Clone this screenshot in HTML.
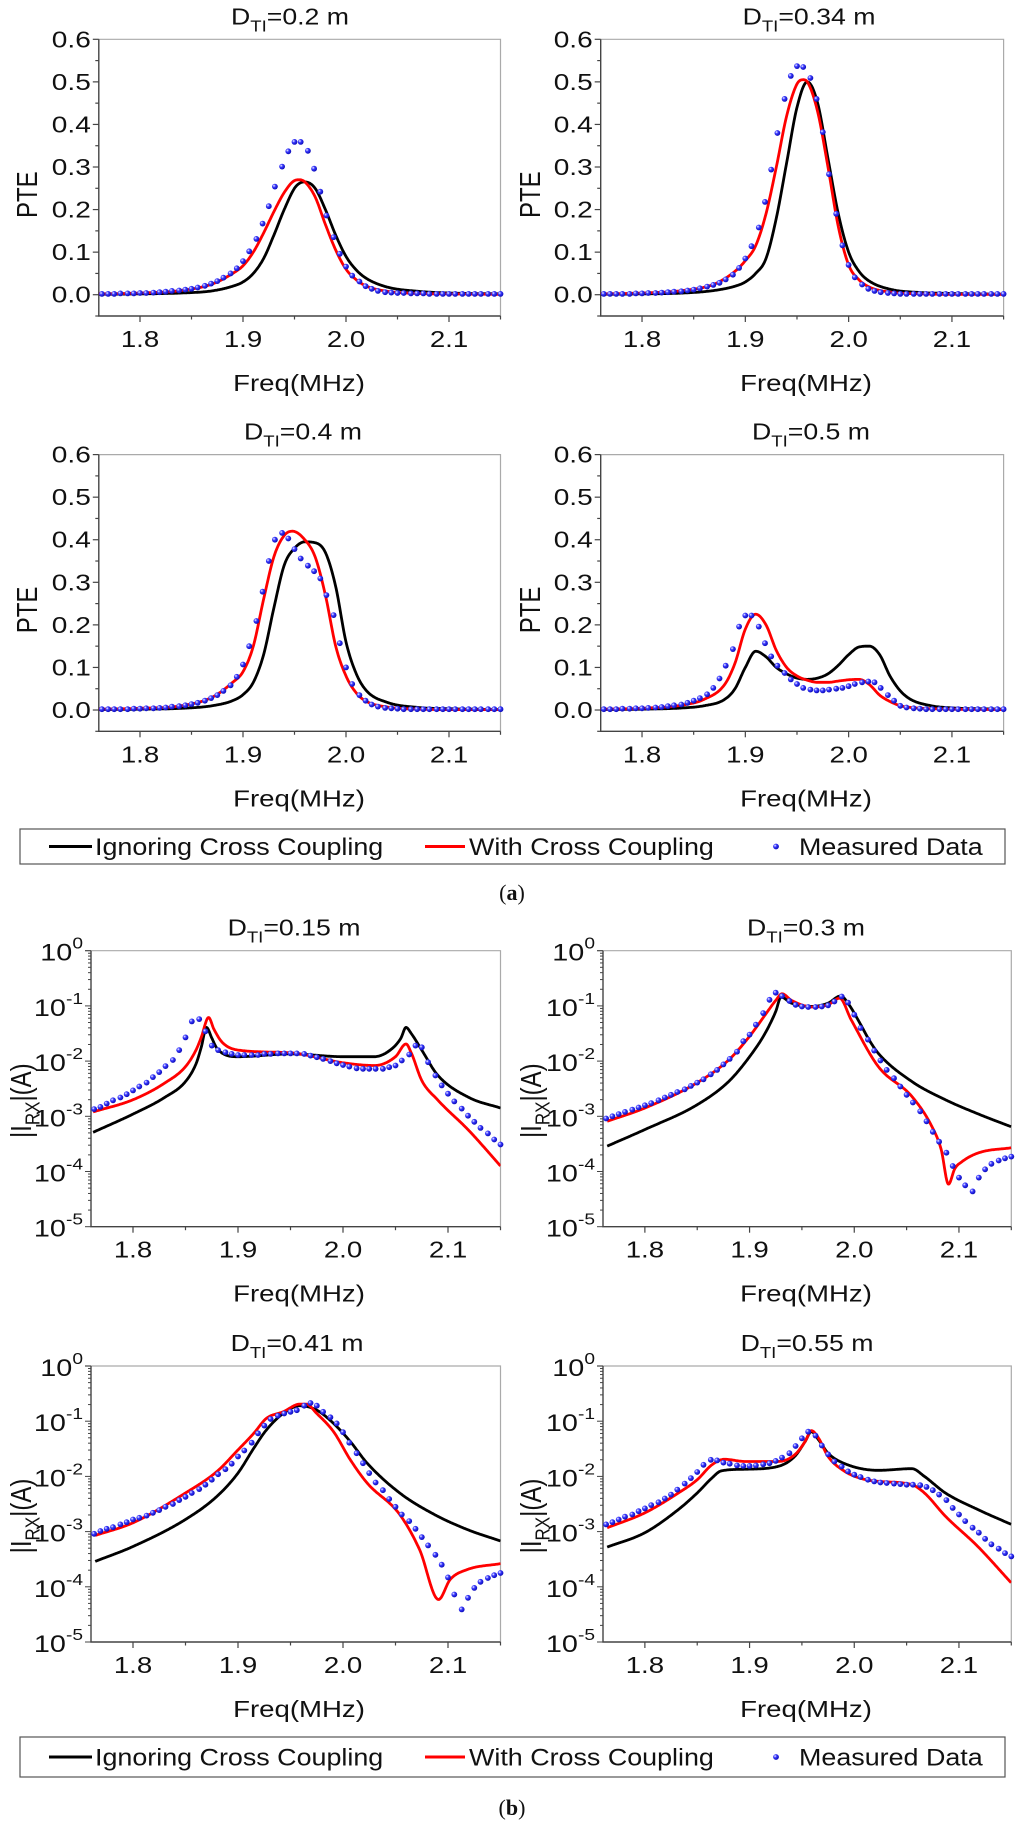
<!DOCTYPE html>
<html><head><meta charset="utf-8"><title>PTE and |I_RX| vs frequency</title>
<style>html,body{margin:0;padding:0;background:#fff}svg{display:block}text{font-family:"Liberation Sans",Arial,sans-serif;fill:#111}</style>
</head><body>
<svg id="fig" xmlns="http://www.w3.org/2000/svg" width="1024" height="1823" viewBox="0 0 1024 1823">
<defs>
<radialGradient id="ball" cx="0.35" cy="0.35" r="0.75">
<stop offset="0" stop-color="#ffffff"/><stop offset="0.35" stop-color="#3a3aff"/><stop offset="1" stop-color="#0000a8"/>
</radialGradient>
</defs>
</svg>
<script>
// ---------- DATA ----------
const dotFreq=[1.763,1.769,1.775,1.781,1.788,1.794,1.800,1.806,1.813,1.819,1.825,1.831,1.838,1.844,1.850,1.856,1.863,1.869,1.875,1.881,1.888,1.894,1.900,1.906,1.913,1.919,1.925,1.931,1.938,1.944,1.950,1.956,1.963,1.969,1.975,1.981,1.988,1.994,2.000,2.006,2.013,2.019,2.025,2.031,2.038,2.044,2.050,2.056,2.063,2.069,2.075,2.081,2.088,2.094,2.100,2.106,2.113,2.119,2.125,2.131,2.138,2.144,2.150];
const xTicks=[1.8,1.9,2.0,2.1];
const xTickLabels=["1.8","1.9","2.0","2.1"];
const pteTicks=[0,0.1,0.2,0.3,0.4,0.5,0.6];
const pteTickLabels=["0.0","0.1","0.2","0.3","0.4","0.5","0.6"];
const logTicks=[0,-1,-2,-3,-4,-5];
const logTickLabels=["0","-1","-2","-3","-4","-5"];

// (a) D=0.2 m
const a1CurveF=[1.76,1.80,1.84,1.87,1.89,1.90,1.91,1.92,1.93,1.94,1.95,1.955,1.96,1.97,1.98,1.99,2.00,2.01,2.02,2.04,2.07,2.10,2.15];
const a1Black=[.001,.002,.004,.009,.02,.03,.05,.085,.14,.2,.25,.262,.265,.25,.2,.14,.09,.058,.038,.018,.008,.004,.002];
const a1Red=[.002,.004,.010,.025,.05,.068,.10,.145,.195,.24,.268,.27,.265,.23,.165,.105,.06,.035,.02,.008,.003,.002,.001];
const a1Meas=[.002,.002,.002,.003,.003,.003,.004,.004,.005,.006,.007,.009,.010,.012,.014,.017,.021,.026,.032,.040,.050,.062,.079,.102,.131,.167,.208,.254,.301,.337,.359,.359,.338,.296,.242,.186,.135,.096,.066,.045,.031,.020,.014,.009,.006,.005,.004,.004,.003,.003,.003,.002,.002,.002,.002,.002,.002,.002,.002,.002,.002,.002,.002];
// (a) D=0.34 m
const a2RedF=[1.76,1.80,1.84,1.87,1.89,1.90,1.91,1.92,1.93,1.94,1.95,1.956,1.96,1.97,1.98,1.99,2.00,2.01,2.02,2.04,2.07,2.10,2.15];
const a2Red=[.002,.004,.010,.025,.055,.08,.115,.19,.30,.42,.495,.505,.50,.43,.30,.16,.07,.035,.018,.006,.002,.001,.001];
const a2BlackF=[1.76,1.80,1.84,1.87,1.89,1.90,1.91,1.92,1.93,1.94,1.95,1.96,1.97,1.98,1.99,2.00,2.01,2.02,2.04,2.07,2.10,2.15];
const a2Black=[.001,.002,.004,.01,.02,.03,.05,.085,.18,.31,.44,.50,.45,.32,.19,.10,.055,.032,.013,.005,.003,.001];
const a2Meas=[.002,.002,.002,.002,.002,.003,.003,.004,.004,.005,.006,.007,.008,.010,.012,.015,.019,.023,.028,.036,.047,.063,.085,.114,.158,.218,.294,.38,.46,.514,.537,.535,.509,.46,.382,.283,.19,.116,.07,.041,.024,.014,.009,.006,.004,.003,.002,.002,.002,.002,.002,.002,.002,.002,.002,.002,.002,.002,.002,.002,.002,.002,.002];
// (a) D=0.4 m
const a3RedF=[1.76,1.80,1.84,1.87,1.89,1.90,1.91,1.92,1.93,1.94,1.948,1.96,1.97,1.98,1.99,2.00,2.01,2.02,2.04,2.07,2.10,2.15];
const a3Red=[.002,.004,.01,.03,.065,.09,.15,.26,.36,.41,.42,.40,.36,.27,.15,.08,.04,.02,.007,.002,.001,.001];
const a3BlackF=[1.76,1.80,1.84,1.87,1.89,1.90,1.91,1.92,1.93,1.94,1.95,1.96,1.97,1.98,1.99,2.00,2.01,2.02,2.04,2.07,2.10,2.15];
const a3Black=[.001,.002,.004,.01,.022,.036,.065,.13,.24,.34,.38,.395,.393,.37,.29,.16,.085,.045,.018,.006,.003,.001];
const a3Meas=[.002,.002,.002,.002,.002,.003,.003,.004,.004,.005,.006,.008,.009,.011,.014,.017,.022,.028,.035,.045,.058,.078,.107,.15,.209,.278,.35,.40,.416,.403,.378,.356,.339,.326,.309,.27,.223,.157,.10,.061,.035,.022,.013,.008,.005,.004,.003,.002,.002,.002,.002,.002,.002,.002,.002,.002,.002,.002,.002,.002,.002,.002,.002];
// (a) D=0.5 m
const a4CurveF=[1.76,1.80,1.84,1.86,1.88,1.89,1.90,1.91,1.92,1.93,1.94,1.95,1.96,1.97,1.98,1.99,2.00,2.01,2.02,2.03,2.04,2.05,2.06,2.08,2.10,2.15];
const a4Black=[.001,.002,.005,.01,.025,.05,.10,.138,.125,.10,.085,.075,.072,.075,.085,.105,.13,.148,.15,.13,.08,.045,.025,.01,.005,.002];
const a4Red=[.002,.004,.012,.025,.06,.11,.19,.225,.2,.14,.1,.08,.07,.065,.065,.068,.071,.072,.06,.035,.02,.01,.006,.003,.002,.001];
const a4Meas=[.002,.002,.002,.003,.003,.004,.004,.005,.006,.007,.009,.011,.013,.017,.022,.028,.037,.052,.074,.104,.143,.196,.222,.222,.196,.157,.126,.104,.087,.072,.061,.052,.048,.046,.046,.048,.05,.052,.056,.061,.065,.067,.065,.052,.035,.022,.01,.006,.004,.003,.002,.002,.002,.002,.002,.002,.002,.002,.002,.002,.002,.002,.002];

// (b) values are log10(|I_RX| / A)
const b1BlackF=[1.762,1.80,1.83,1.85,1.86,1.865,1.87,1.875,1.88,1.90,1.95,2.00,2.03,2.045,2.055,2.06,2.065,2.075,2.09,2.12,2.15];
const b1BlackLog=[-3.29,-2.96,-2.66,-2.37,-2.05,-1.75,-1.39,-1.58,-1.77,-1.92,-1.87,-1.92,-1.92,-1.80,-1.59,-1.39,-1.50,-1.80,-2.25,-2.66,-2.85];
const b1RedF=[1.762,1.80,1.83,1.85,1.86,1.865,1.872,1.877,1.885,1.90,1.95,2.00,2.03,2.05,2.06,2.065,2.075,2.09,2.12,2.15];
const b1RedLog=[-2.92,-2.70,-2.40,-2.10,-1.80,-1.57,-1.21,-1.42,-1.66,-1.80,-1.85,-2.03,-2.08,-1.92,-1.69,-1.85,-2.35,-2.70,-3.26,-3.90];
const b1MeasLog=[-2.87,-2.83,-2.77,-2.71,-2.66,-2.60,-2.53,-2.46,-2.39,-2.29,-2.20,-2.09,-1.98,-1.80,-1.57,-1.28,-1.24,-1.46,-1.72,-1.80,-1.84,-1.87,-1.89,-1.89,-1.89,-1.89,-1.87,-1.87,-1.86,-1.86,-1.86,-1.86,-1.87,-1.90,-1.93,-1.96,-2.00,-2.04,-2.07,-2.10,-2.13,-2.14,-2.14,-2.14,-2.14,-2.11,-2.08,-1.99,-1.88,-1.72,-1.75,-2.02,-2.26,-2.44,-2.59,-2.73,-2.86,-2.99,-3.10,-3.21,-3.31,-3.42,-3.51];
const b2BlackF=[1.764,1.80,1.85,1.88,1.90,1.915,1.925,1.930,1.94,1.96,1.975,1.987,1.995,2.005,2.014,2.023,2.055,2.087,2.12,2.15];
const b2BlackLog=[-3.54,-3.24,-2.79,-2.37,-1.92,-1.49,-1.10,-0.84,-0.95,-1.01,-0.95,-0.82,-0.98,-1.30,-1.61,-1.86,-2.37,-2.70,-2.97,-3.19];
const b2RedF=[1.764,1.80,1.85,1.88,1.90,1.915,1.925,1.931,1.94,1.96,1.975,1.986,1.997,2.023,2.055,2.074,2.083,2.090,2.096,2.103,2.119,2.15];
const b2RedLog=[-3.09,-2.85,-2.39,-1.98,-1.55,-1.16,-0.90,-0.78,-0.90,-1.02,-0.98,-0.86,-1.25,-2.10,-2.64,-3.18,-3.60,-4.23,-3.95,-3.82,-3.66,-3.57];
const b2MeasLog=[-3.04,-3.00,-2.96,-2.92,-2.88,-2.84,-2.80,-2.76,-2.71,-2.66,-2.61,-2.56,-2.51,-2.45,-2.39,-2.33,-2.24,-2.16,-2.06,-1.96,-1.83,-1.64,-1.52,-1.34,-1.13,-0.89,-0.76,-0.82,-0.91,-0.98,-1.01,-1.02,-1.02,-1.01,-0.99,-0.92,-0.83,-0.94,-1.16,-1.40,-1.61,-1.81,-1.99,-2.16,-2.31,-2.46,-2.61,-2.75,-2.91,-3.09,-3.28,-3.46,-3.66,-3.90,-4.11,-4.25,-4.36,-4.11,-3.96,-3.86,-3.80,-3.76,-3.73];
const b3BlackF=[1.764,1.80,1.85,1.88,1.90,1.915,1.927,1.943,1.959,1.975,1.991,2.007,2.023,2.054,2.087,2.118,2.15];
const b3BlackLog=[-3.54,-3.27,-2.78,-2.36,-1.94,-1.49,-1.16,-0.86,-0.72,-0.80,-1.04,-1.37,-1.76,-2.30,-2.69,-2.96,-3.17];
const b3RedF=[1.764,1.80,1.85,1.88,1.90,1.915,1.927,1.943,1.959,1.965,1.975,1.991,2.007,2.023,2.054,2.073,2.091,2.102,2.118,2.15];
const b3RedLog=[-3.07,-2.84,-2.30,-1.91,-1.52,-1.22,-0.95,-0.83,-0.69,-0.69,-0.86,-1.19,-1.70,-2.12,-2.69,-3.33,-4.23,-3.87,-3.69,-3.58];
const b3MeasLog=[-3.04,-2.99,-2.95,-2.92,-2.87,-2.83,-2.78,-2.75,-2.71,-2.66,-2.61,-2.55,-2.50,-2.43,-2.37,-2.30,-2.23,-2.15,-2.06,-1.96,-1.87,-1.77,-1.64,-1.53,-1.39,-1.22,-1.08,-0.96,-0.90,-0.86,-0.83,-0.80,-0.72,-0.67,-0.72,-0.83,-0.93,-1.04,-1.20,-1.39,-1.58,-1.76,-1.94,-2.11,-2.25,-2.41,-2.55,-2.69,-2.81,-2.95,-3.10,-3.25,-3.42,-3.60,-3.83,-4.14,-4.41,-4.20,-4.02,-3.91,-3.84,-3.79,-3.75];
const b4BlackF=[1.764,1.80,1.832,1.85,1.864,1.873,1.896,1.927,1.943,1.953,1.959,1.966,1.975,1.991,2.023,2.055,2.067,2.087,2.118,2.15];
const b4BlackLog=[-3.28,-3.02,-2.60,-2.30,-2.03,-1.90,-1.87,-1.82,-1.64,-1.37,-1.19,-1.34,-1.58,-1.77,-1.89,-1.86,-2.00,-2.30,-2.60,-2.87];
const b4RedF=[1.764,1.80,1.832,1.85,1.864,1.876,1.896,1.927,1.943,1.953,1.959,1.966,1.975,1.991,2.007,2.023,2.055,2.067,2.087,2.118,2.15];
const b4RedLog=[-2.93,-2.66,-2.30,-2.06,-1.79,-1.69,-1.73,-1.73,-1.61,-1.37,-1.17,-1.31,-1.64,-1.91,-2.04,-2.09,-2.15,-2.30,-2.72,-3.27,-3.93];
const b4MeasLog=[-2.87,-2.83,-2.78,-2.73,-2.69,-2.63,-2.58,-2.52,-2.47,-2.40,-2.33,-2.24,-2.13,-2.03,-1.92,-1.79,-1.70,-1.71,-1.75,-1.77,-1.80,-1.81,-1.81,-1.80,-1.78,-1.76,-1.72,-1.66,-1.58,-1.45,-1.31,-1.19,-1.26,-1.44,-1.60,-1.73,-1.82,-1.91,-1.97,-2.01,-2.06,-2.09,-2.11,-2.12,-2.13,-2.14,-2.15,-2.15,-2.16,-2.19,-2.25,-2.33,-2.43,-2.57,-2.69,-2.81,-2.93,-3.02,-3.13,-3.23,-3.31,-3.39,-3.45];

// ---------- LAYOUT ----------
const NS="http://www.w3.org/2000/svg";
const svg=document.getElementById('fig');
const SX=1.18;
function el(tag,attrs,parent){const e=document.createElementNS(NS,tag);for(const k in attrs)e.setAttribute(k,attrs[k]);(parent||svg).appendChild(e);return e;}
function txt(parent,x,y,html,fs,anchor,sx,rot){
  const t=el('text',{transform:`translate(${x},${y}) scale(${sx||SX},1)`+(rot?` rotate(${rot})`:''),'font-size':fs,'text-anchor':anchor||'middle'},parent);
  t.innerHTML=html;return t;
}
function monotone(xs,ys){
  const n=xs.length,d=[],m=new Array(n);
  for(let i=0;i<n-1;i++)d.push((ys[i+1]-ys[i])/(xs[i+1]-xs[i]));
  m[0]=d[0];m[n-1]=d[n-2];
  for(let i=1;i<n-1;i++){m[i]=(d[i-1]*d[i]<=0)?0:(d[i-1]+d[i])/2;}
  for(let i=0;i<n-1;i++){if(d[i]===0){m[i]=0;m[i+1]=0;continue;}const a=m[i]/d[i],b=m[i+1]/d[i],s=a*a+b*b;if(s>9){const t=3/Math.sqrt(s);m[i]=t*a*d[i];m[i+1]=t*b*d[i];}}
  return function(x){let i=0;while(i<n-2&&x>xs[i+1])i++;const h=xs[i+1]-xs[i],t=Math.min(1,Math.max(0,(x-xs[i])/h));const t2=t*t,t3=t2*t;
    return (2*t3-3*t2+1)*ys[i]+(t3-2*t2+t)*h*m[i]+(-2*t3+3*t2)*ys[i+1]+(t3-t2)*h*m[i+1];};
}
const panels=[
 {id:'a1',kind:'pte',L:98.8,R:500.5,T:39.3,B:316,title:'0.2',tx:290,col:0,curves:[[a1CurveF,a1Black,'#000'],[a1CurveF,a1Red,'#f00']],meas:a1Meas},
 {id:'a2',kind:'pte',L:600.7,R:1003.6,T:39.3,B:316,title:'0.34',tx:809,col:1,curves:[[a2BlackF,a2Black,'#000'],[a2RedF,a2Red,'#f00']],meas:a2Meas},
 {id:'a3',kind:'pte',L:98.8,R:500.5,T:454.6,B:731.3,title:'0.4',tx:303,col:0,curves:[[a3BlackF,a3Black,'#000'],[a3RedF,a3Red,'#f00']],meas:a3Meas},
 {id:'a4',kind:'pte',L:600.7,R:1003.6,T:454.6,B:731.3,title:'0.5',tx:811,col:1,curves:[[a4CurveF,a4Black,'#000'],[a4CurveF,a4Red,'#f00']],meas:a4Meas},
 {id:'b1',kind:'log',L:91,R:500.5,T:950.7,B:1226.7,title:'0.15',tx:294,col:0,curves:[[b1BlackF,b1BlackLog,'#000'],[b1RedF,b1RedLog,'#f00']],meas:b1MeasLog},
 {id:'b2',kind:'log',L:603,R:1011.3,T:950.7,B:1226.7,title:'0.3',tx:806,col:1,curves:[[b2BlackF,b2BlackLog,'#000'],[b2RedF,b2RedLog,'#f00']],meas:b2MeasLog},
 {id:'b3',kind:'log',L:91,R:500.5,T:1366,B:1642,title:'0.41',tx:297,col:0,curves:[[b3BlackF,b3BlackLog,'#000'],[b3RedF,b3RedLog,'#f00']],meas:b3MeasLog},
 {id:'b4',kind:'log',L:603,R:1011.3,T:1366,B:1642,title:'0.55',tx:807,col:1,curves:[[b4BlackF,b4BlackLog,'#000'],[b4RedF,b4RedLog,'#f00']],meas:b4MeasLog}
];
const FMIN=1.76,FMAX=2.15;
panels.forEach(p=>{
  const g=el('g',{});
  
  
  const xs=f=>p.L+(f-FMIN)/(FMAX-FMIN)*(p.R-p.L);
  const ys=p.kind==='pte'?(v=>p.B-(v+0.05)/0.65*(p.B-p.T)):(v=>p.B-(v+5)/5*(p.B-p.T));
  const cp=el('clipPath',{id:'clip-'+p.id},g);el('rect',{x:p.L,y:p.T,width:p.R-p.L,height:p.B-p.T},cp);
  const fr=el('path',{d:`M${p.L},${p.T}H${p.R}V${p.B}`,fill:'none',stroke:'#aaa','stroke-width':1.2},g);
  
  const ax=el('path',{d:`M${p.L},${p.T}V${p.B}H${p.R}`,fill:'none',stroke:'#444','stroke-width':1.4},g);
  
  const xt=el('g',{},g);
  for(let f=1.75;f<=2.151;f+=0.05){const X=xs(+f.toFixed(2));if(X<p.L-0.5)continue;const major=Math.abs(f*10-Math.round(f*10))<1e-6;el('line',{x1:X,x2:X,y1:p.B,y2:p.B+(major?6:3.5),stroke:'#444','stroke-width':1.2},xt);}
  xTicks.forEach((f,i)=>{const t=txt(xt,xs(f),p.B+31,xTickLabels[i],23,'middle',1.2);});
  const xl=txt(g,p.col?806:299,p.B+75,'Freq(MHz)',23,'middle',1.2);
  
  const yt=el('g',{},g);
  if(p.kind==='pte'){
    for(let k=-1;k<=12;k++){const v=k*0.05,Y=ys(v);el('line',{x1:p.L-(k%2===0?6:3.5),x2:p.L,y1:Y,y2:Y,stroke:'#444','stroke-width':1.2},yt);}
    pteTicks.forEach((v,i)=>{const t=txt(yt,p.L-8,ys(v)+8,pteTickLabels[i],23,'end',1.22);});
    const yl=txt(g,p.col?540:37,(p.T+p.B)/2+17,'PTE',24,'middle',1.2,-90);
    
  }else{
    for(let d=-5;d<0;d++){for(let k=1;k<=9;k++){const Y=ys(d+Math.log10(k));el('line',{x1:p.L-(k===1?6:3),x2:p.L,y1:Y,y2:Y,stroke:'#444','stroke-width':1},yt);}}
    el('line',{x1:p.L-6,x2:p.L,y1:ys(0),y2:ys(0),stroke:'#444','stroke-width':1.2},yt);
    logTicks.forEach((v,i)=>{const t=txt(yt,p.L-8,ys(v)+10,`10<tspan dy="-12" font-size="16">${logTickLabels[i]}</tspan>`,24,'end',1.2);});
    const yl=txt(g,p.col?541:31,(p.T+p.B)/2+12,'|I<tspan dy="7" font-size="17">RX</tspan><tspan dy="-7">|(A)</tspan>',24,'middle',1.2,-90);
    
  }
  const tt=txt(g,p.tx,p.T-15,`D<tspan dy="7" font-size="16">TI</tspan><tspan dy="-7">=${p.title} m</tspan>`,23,'middle',1.16);
  
  const cg=el('g',{'clip-path':`url(#clip-${p.id})`},g);
  p.curves.forEach(c=>{
    const fn=monotone(c[0],c[1]);let d='';
    const x0=xs(c[0][0]),x1=xs(c[0][c[0].length-1]);
    for(let X=x0;X<=x1+0.01;X+=0.7){const f=FMIN+(X-p.L)/(p.R-p.L)*(FMAX-FMIN);d+=(d?'L':'M')+X.toFixed(1)+','+ys(fn(f)).toFixed(1);}
    const pa=el('path',{d:d,fill:'none',stroke:c[2],'stroke-width':2.8,'stroke-linejoin':'round'},cg);
    
    
  });
  const mg=el('g',{},g);
  p.meas.forEach((v,i)=>{const c=el('circle',{cx:xs(dotFreq[i]).toFixed(1),cy:ys(v).toFixed(1),r:2.9,fill:'url(#ball)'},mg);
    });
});
function legend(y0,h,name){
  const g=el('g',{});
  el('rect',{x:20,y:y0,width:985,height:h,fill:'#fff',stroke:'#555','stroke-width':1.2},g);
  const cy=y0+h/2;
  el('line',{x1:49,x2:92,y1:cy,y2:cy,stroke:'#000','stroke-width':3},g);
  el('line',{x1:425,x2:465,y1:cy,y2:cy,stroke:'#f00','stroke-width':3},g);
  el('circle',{cx:776,cy:cy,r:2.9,fill:'url(#ball)'},g);
  const t1=txt(g,95,cy+8.5,'Ignoring Cross Coupling',24,'start',1.12);
  const t2=txt(g,469,cy+8.5,'With Cross Coupling',24,'start',1.12);
  const t3=txt(g,799,cy+8.5,'Measured Data',24,'start',1.12);
}
legend(829,35,'legend-a');
legend(1737,40,'legend-b');
const la=el('text',{x:512,y:900,'font-size':22,'text-anchor':'middle',style:'font-family:"Liberation Serif",serif'});
la.innerHTML='(<tspan font-weight="bold">a</tspan>)';

const lb=el('text',{x:512,y:1815,'font-size':22,'text-anchor':'middle',style:'font-family:"Liberation Serif",serif'});
lb.innerHTML='(<tspan font-weight="bold">b</tspan>)';

</script>
</body></html>
